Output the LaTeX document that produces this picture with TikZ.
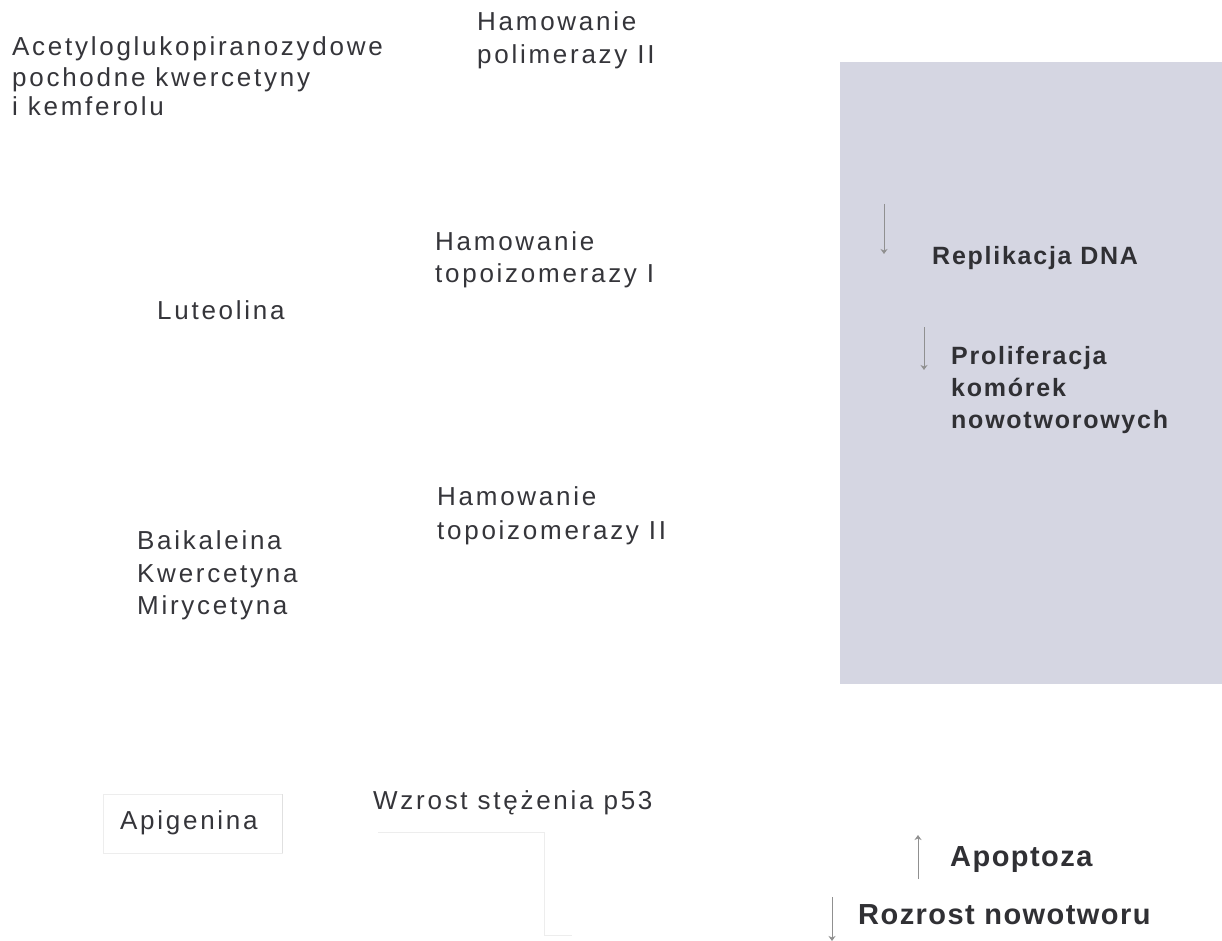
\documentclass[tikz,border=0pt]{standalone}
\usepackage{fontspec}
\setmainfont{Liberation Sans}
\newfontfamily\regf[LetterSpace=10.5]{Liberation Sans}
\newfontfamily\bolf[LetterSpace=7]{Liberation Sans Bold}
\newfontfamily\bigf[LetterSpace=5]{Liberation Sans Bold}
\usetikzlibrary{arrows.meta}
\definecolor{ink}{HTML}{35353A}
\definecolor{panel}{RGB}{213,214,226}
\definecolor{arrowgray}{HTML}{909090}
\definecolor{faint}{HTML}{EDEDED}
\begin{document}
\begin{tikzpicture}[x=1pt,y=-1pt,
  txt/.style={anchor=base west, inner sep=0pt, text=ink, font=\regf\fontsize{26}{30}\selectfont},
  btxt/.style={anchor=base west, inner sep=0pt, text=ink!90!black, font=\bolf\fontsize{25}{30}\selectfont},
  bigtxt/.style={anchor=base west, inner sep=0pt, text=ink!90!black, font=\bigf\fontsize{29}{34}\selectfont},
  arr/.style={draw=arrowgray, line width=0.8pt, -{Stealth[length=5pt,width=7pt,inset=1.5pt]}},
  faintline/.style={draw=faint, line width=1pt}]
\useasboundingbox (0,0) rectangle (1222,941);
\fill[white] (0,0) rectangle (1222,941);
\fill[panel] (840,62) rectangle (1222,684);

% left column
\node[txt] (a1) at (12,56) {Acetyloglukopiranozydowe};
\node[txt] (a2) at (12,87) {pochodne kwercetyny};
\node[txt] (a3) at (12,116) {i kemferolu};
\node[txt] (lut) at (157,319) {Luteolina};
\node[txt] (b1) at (137,549) {Baikaleina};
\node[txt] (b2) at (137,582) {Kwercetyna};
\node[txt] (b3) at (137,614) {Mirycetyna};
\node[txt] (api) at (120,829) {Apigenina};

% middle column
\node[txt] (h1) at (477,31) {Hamowanie};
\node[txt] (h1b) at (477,64) {polimerazy II};
\node[txt] (h2) at (435,251) {Hamowanie};
\node[txt] (h2b) at (435,282) {topoizomerazy I};
\node[txt] (h3) at (437,505) {Hamowanie};
\node[txt] (h3b) at (437,539) {topoizomerazy II};
\node[txt] (p53) at (373,809) {Wzrost stężenia p53};

% right panel
\node[btxt] (rep) at (932,264) {Replikacja DNA};
\node[btxt] (pr1) at (951,364) {Proliferacja};
\node[btxt] (pr2) at (951,396) {komórek};
\node[btxt] (pr3) at (951,428) {nowotworowych};
\node[bigtxt] (apo) at (950,866) {Apoptoza};
\node[bigtxt] (roz) at (858,924) {Rozrost nowotworu};

% small arrows
\coordinate (ra) at (884,204); \coordinate (rb) at (884,254);
\coordinate (pa) at (924,327); \coordinate (pb) at (924,370);
\coordinate (aa) at (918,879); \coordinate (ab) at (918,835);
\coordinate (za) at (832,897); \coordinate (zb) at (832,941);
\draw[arr] (ra) -- (rb);
\draw[arr] (pa) -- (pb);
\draw[arr] (aa) -- (ab);
\draw[arr] (za) -- (zb);

% faint remnants
\coordinate (apiTL) at (103,794); \coordinate (apiBR) at (282,853);
\draw[faint] (apiTL) rectangle (apiBR);
\draw[draw=black!12, line width=1pt] (282,794) -- (282,853);
\coordinate (l1) at (378,832); \coordinate (l2) at (544,832);
\coordinate (l3) at (544,935); \coordinate (l4) at (572,935);
\draw[faintline] (l1) -- (l2) -- (l3) -- (l4);
\end{tikzpicture}
\end{document}
